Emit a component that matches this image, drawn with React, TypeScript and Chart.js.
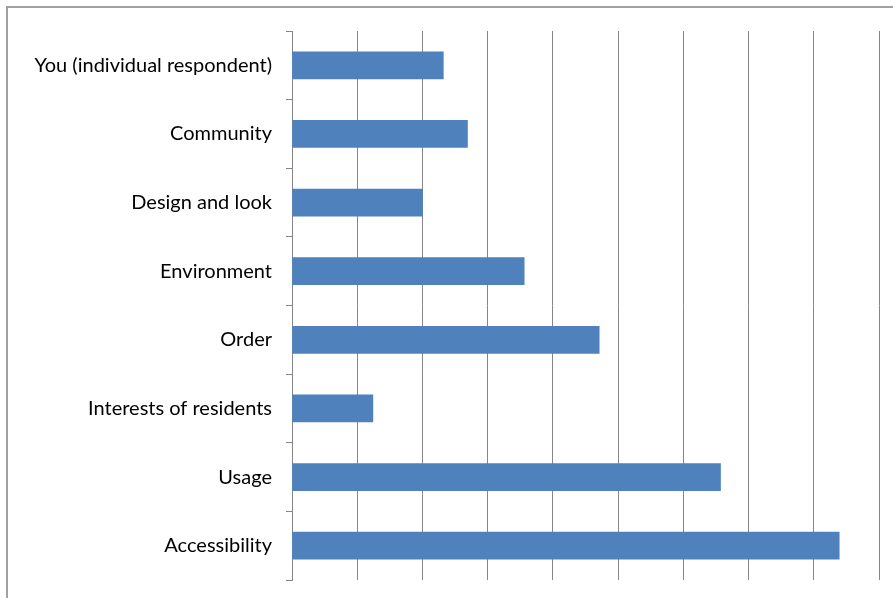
import React, { useEffect, useRef } from "react";
import { Chart, registerables } from "chart.js";

Chart.register(...registerables);

const categories = [
  "You (individual respondent)",
  "Community",
  "Design and look",
  "Environment",
  "Order",
  "Interests of residents",
  "Usage",
  "Accessibility",
];
const values = [2.32, 2.69, 2.0, 3.56, 4.71, 1.24, 6.57, 8.39];
const axisMax = 9;

const framePlugin = {
  id: "frame",
  beforeDraw(chart: any) {
    const ctx = chart.ctx;
    ctx.save();
    ctx.fillStyle = "#ffffff";
    ctx.fillRect(0, 0, chart.width, chart.height);
    ctx.strokeStyle = "#a0a0a0";
    ctx.lineWidth = 2;
    ctx.beginPath();
    ctx.moveTo(7, chart.height + 5);
    ctx.lineTo(7, 7);
    ctx.lineTo(chart.width + 5, 7);
    ctx.stroke();
    ctx.restore();
  },
};

export default function App() {
  const ref = useRef<HTMLCanvasElement>(null);
  useEffect(() => {
    document.body.style.margin = "0";
    const chart = new Chart(ref.current!, {
      type: "bar",
      data: {
        labels: categories,
        datasets: [
          {
            data: values,
            backgroundColor: "#4F81BD",
            barThickness: 27,
          },
        ],
      },
      plugins: [framePlugin],
      options: {
        indexAxis: "y",
        responsive: false,
        animation: false,
        layout: { padding: { left: 0, top: 31, right: 14, bottom: 18 } },
        plugins: { legend: { display: false }, tooltip: { enabled: false } },
        scales: {
          x: {
            min: 0,
            max: axisMax,
            ticks: { display: false, stepSize: 1 },
            grid: { color: "#868686", lineWidth: 1, drawTicks: false },
            border: { display: false },
            afterFit(scale: any) {
              scale.height = 0;
              scale.paddingLeft = 0;
              scale.paddingRight = 0;
            },
          },
          y: {
            grid: {
              offset: true,
              drawOnChartArea: false,
              tickLength: 6,
              color: "#868686",
            },
            border: { display: true, color: "#868686", width: 1 },
            ticks: {
              color: "#000000",
              padding: 14,
              font: { family: "Lato", size: 20 },
            },
            afterFit(scale: any) {
              scale.width = 292;
              scale.paddingTop = 0;
              scale.paddingBottom = 0;
            },
          },
        },
      },
    });
    return () => chart.destroy();
  }, []);
  return (
    <div style={{ width: 893, height: 598 }}>
      <canvas ref={ref} width={893} height={598} />
    </div>
  );
}
